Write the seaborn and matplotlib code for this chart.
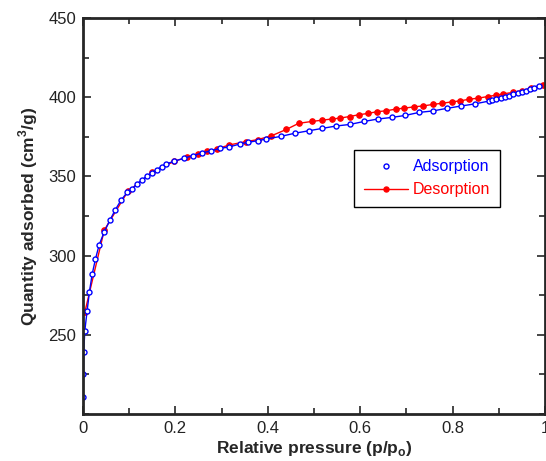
import numpy as np
import pandas as pd
import seaborn as sns
import matplotlib.pyplot as plt
from matplotlib.lines import Line2D
from matplotlib.ticker import MultipleLocator

# Adsorption branch
ads_p = [0.0005, 0.001, 0.0015, 0.004, 0.009, 0.014, 0.020, 0.027, 0.035, 0.046,
         0.058, 0.070, 0.082, 0.096, 0.107, 0.117, 0.128, 0.138, 0.149, 0.160,
         0.170, 0.180, 0.198, 0.218, 0.238, 0.258, 0.278, 0.297, 0.317, 0.339,
         0.357, 0.378, 0.397, 0.429, 0.458, 0.489, 0.518, 0.548, 0.578, 0.609,
         0.638, 0.668, 0.698, 0.728, 0.757, 0.787, 0.818, 0.849, 0.878, 0.886,
         0.895, 0.905, 0.914, 0.923, 0.932, 0.941, 0.950, 0.959, 0.968, 0.977,
         0.987]
ads_q = [210.7, 225.0, 239.0, 252.7, 265.3, 277.3, 288.4, 297.8, 306.8, 314.9,
         322.2, 328.9, 334.8, 340.0, 342.1, 345.3, 347.8, 350.1, 352.3, 354.3,
         356.2, 357.9, 359.6, 361.4, 363.1, 364.8, 366.2, 367.7, 368.6, 370.4,
         371.5, 372.5, 373.6, 375.3, 377.2, 378.8, 380.3, 381.8, 382.8, 384.7,
         386.2, 387.2, 388.5, 390.4, 391.3, 392.9, 394.4, 395.8, 397.5, 398.1,
         398.7, 399.6, 400.2, 400.8, 401.7, 402.5, 403.3, 404.0, 405.0, 406.1,
         407.1]

# Desorption branch
des_p = [0.004, 0.046, 0.097, 0.150, 0.198, 0.225, 0.249, 0.268, 0.290, 0.316,
         0.352, 0.378, 0.407, 0.440, 0.467, 0.496, 0.518, 0.538, 0.557, 0.577,
         0.597, 0.616, 0.636, 0.656, 0.678, 0.696, 0.717, 0.737, 0.757, 0.778,
         0.798, 0.817, 0.836, 0.856, 0.876, 0.895, 0.910, 0.930, 0.950, 0.970,
         0.995]
des_q = [264.3, 316.0, 340.5, 352.6, 359.6, 362.0, 364.2, 365.9, 367.3, 369.8,
         371.9, 373.2, 375.5, 379.6, 383.5, 384.7, 385.5, 386.2, 386.8, 387.8,
         388.9, 389.7, 390.8, 391.4, 392.5, 393.1, 393.9, 394.5, 395.4, 396.2,
         397.0, 397.7, 398.7, 399.4, 400.4, 401.3, 402.1, 403.0, 404.2, 405.7,
         408.0]

sns.set_style("ticks")
plt.rcParams['font.family'] = ['Liberation Sans', 'DejaVu Sans']
plt.rcParams['mathtext.fontset'] = 'custom'
plt.rcParams['mathtext.rm'] = 'Liberation Sans'
plt.rcParams['mathtext.bf'] = 'Liberation Sans:bold'

fig, ax = plt.subplots(figsize=(5.46, 4.61), dpi=100)
fig.subplots_adjust(left=0.152, right=0.998, top=0.961, bottom=0.102)

ads = pd.DataFrame({"p": ads_p, "q": ads_q})
des = pd.DataFrame({"p": des_p, "q": des_q})

sns.lineplot(data=des, x="p", y="q", ax=ax, color="red", lw=1.0, sort=False,
             marker="o", markersize=4, markeredgecolor="red", markerfacecolor="red")
sns.lineplot(data=ads, x="p", y="q", ax=ax, color="blue", lw=1.0, sort=False,
             marker="o", markersize=3.6, markeredgecolor="blue", markerfacecolor="white",
             markeredgewidth=1)

ax.set_xlim(0, 1)
ax.set_ylim(200, 450)
ax.xaxis.set_minor_locator(MultipleLocator(0.1))
ax.yaxis.set_minor_locator(MultipleLocator(25))
ax.set_xticks([0, 0.2, 0.4, 0.6, 0.8, 1.0])
ax.set_xticklabels(["0", "0.2", "0.4", "0.6", "0.8", "1"])
ax.set_yticks([250, 300, 350, 400, 450])
ax.tick_params(which="both", direction="in", top=True, right=True, width=1.2,
               labelsize=12, labelcolor="#222222", pad=5)
ax.tick_params(which="major", length=6)
ax.tick_params(which="minor", length=4)
for s in ax.spines.values():
    s.set_linewidth(2)
    s.set_visible(True)

ax.set_xlabel(r"Relative pressure (p/p$_\mathbf{o}$)", fontsize=12.5, fontweight="bold", labelpad=2)
ax.set_ylabel(r"Quantity adsorbed (cm$^\mathbf{3}$/g)", fontsize=12.5, fontweight="bold", labelpad=6)

handles = [
    Line2D([], [], color="blue", ls="none", marker="o", markersize=3.6,
           markerfacecolor="white", markeredgecolor="blue"),
    Line2D([], [], color="red", ls="-", lw=1.0, marker="o", markersize=3.6),
]
leg = ax.legend(handles, ["Adsorption", "Desorption"], loc="upper left",
                bbox_to_anchor=(0.587, 0.667), borderaxespad=0, fontsize=11.5,
                frameon=True, fancybox=False, edgecolor="black", framealpha=1,
                handlelength=2.8, handletextpad=0.3, borderpad=0.6, labelspacing=0.5)
leg.get_frame().set_linewidth(1)
for t, c in zip(leg.get_texts(), ["blue", "red"]):
    t.set_color(c)

fig.savefig("out.png", dpi=100)
